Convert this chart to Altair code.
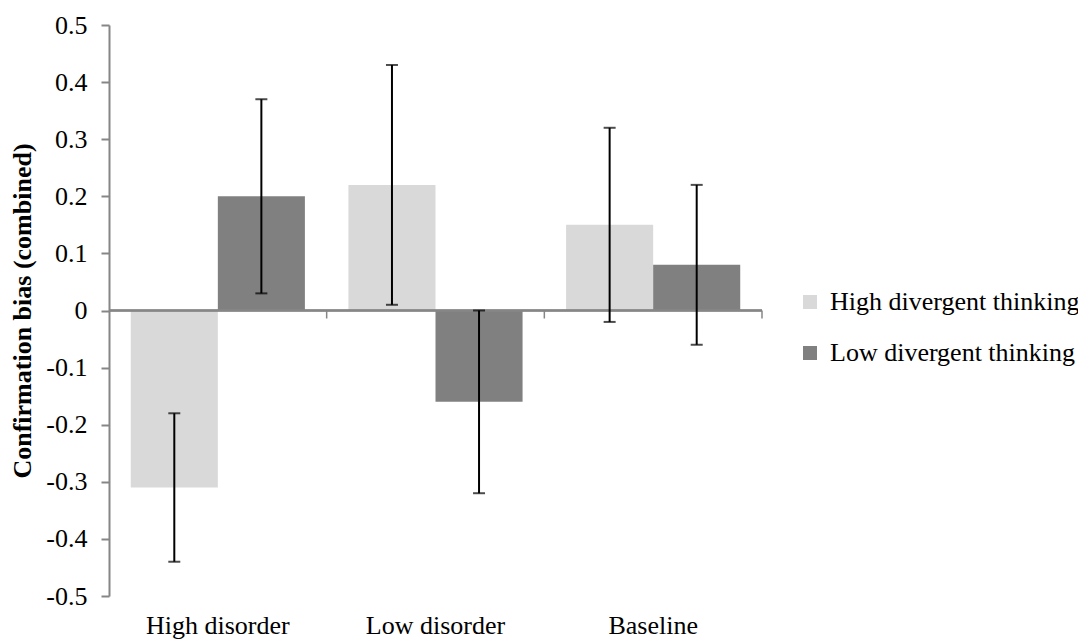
import altair as alt
import pandas as pd

categories = ["High disorder", "Low disorder", "Baseline"]
groups = ["High divergent thinking", "Low divergent thinking"]
high_vals = [-0.31, 0.22, 0.15]
high_lo = [-0.44, 0.01, -0.02]
high_hi = [-0.18, 0.43, 0.32]
low_vals = [0.20, -0.16, 0.08]
low_lo = [0.03, -0.32, -0.06]
low_hi = [0.37, 0.00, 0.22]
y_ticks = [-0.5, -0.4, -0.3, -0.2, -0.1, 0, 0.1, 0.2, 0.3, 0.4, 0.5]

rows = []
for i, c in enumerate(categories):
    rows.append({"cat": c, "grp": groups[0], "val": high_vals[i], "lo": high_lo[i], "hi": high_hi[i]})
    rows.append({"cat": c, "grp": groups[1], "val": low_vals[i], "lo": low_lo[i], "hi": low_hi[i]})
df = pd.DataFrame(rows)
sep_df = pd.DataFrame({"cat": categories})

W, H = 653, 571
FONT = "Liberation Serif"
AX = "#868686"
FS = 26

xscale = alt.Scale(domain=categories, paddingInner=0, paddingOuter=0)
xoff = alt.XOffset("grp:N", sort=groups, scale=alt.Scale(domain=groups, paddingInner=0, paddingOuter=0.25))
yscale = alt.Scale(domain=[-0.5, 0.5], nice=False, zero=False)

x_enc = alt.X("cat:N", sort=categories, scale=xscale,
              axis=alt.Axis(title=None, domain=False, ticks=False, labelAngle=0,
                            labelFont=FONT, labelFontSize=FS, labelColor="black",
                            labelPadding=16, labelLimit=0))
y_enc = alt.Y("val:Q", scale=yscale,
              axis=alt.Axis(title="Confirmation bias (combined)", values=y_ticks, grid=False,
                            domainColor=AX, domainWidth=2, tickColor=AX, tickWidth=2, tickSize=8,
                            labelFont=FONT, labelFontSize=FS, labelColor="black", labelPadding=14,
                            labelExpr="datum.value == 0 ? '0' : (datum.value < 0 ? '-' + format(-datum.value, '.1f') : format(datum.value, '.1f'))",
                            titleFont=FONT, titleFontSize=FS, titleFontWeight="bold",
                            titleColor="black", titlePadding=10))

base = alt.Chart(df)
bars = base.mark_bar().encode(
    x=x_enc, xOffset=xoff, y=y_enc, y2=alt.datum(0),
    color=alt.Color("grp:N", sort=groups,
                    scale=alt.Scale(domain=groups, range=["#d9d9d9", "#808080"]),
                    legend=alt.Legend(title=None, orient="none", legendX=688, legendY=264,
                                      symbolType="square", symbolSize=196, symbolStrokeWidth=0,
                                      labelFont=FONT, labelFontSize=FS, labelColor="black",
                                      labelOffset=7, rowPadding=25, labelLimit=0)),
)

zero = alt.Chart(sep_df).mark_rule(color=AX, strokeWidth=2).encode(
    y=alt.datum(0), x=alt.value(0), x2=alt.value(W))

seps = alt.Chart(sep_df).mark_rule(color=AX, strokeWidth=1.5).encode(
    x=alt.X("cat:N", sort=categories, scale=xscale, bandPosition=1),
    y=alt.datum(0), y2=alt.datum(-0.014))

xs = alt.X("cat:N", sort=categories, scale=xscale)
err = base.mark_rule(color="black", strokeWidth=2).encode(
    x=xs, xOffset=xoff, y="lo:Q", y2="hi:Q")
cap_lo = base.mark_tick(color="black", size=12, thickness=2).encode(
    x=xs, xOffset=xoff, y="lo:Q")
cap_hi = base.mark_tick(color="black", size=12, thickness=2).encode(
    x=xs, xOffset=xoff, y="hi:Q")

chart = alt.layer(bars, zero, seps, err, cap_lo, cap_hi).properties(
    width=W, height=H,
    autosize=alt.AutoSizeParams(type="none"),
    padding={"left": 101, "top": 17, "right": 316, "bottom": 45},
).configure_view(stroke=None)

chart.save("out.html", embed_options={"renderer": "svg", "actions": False})
